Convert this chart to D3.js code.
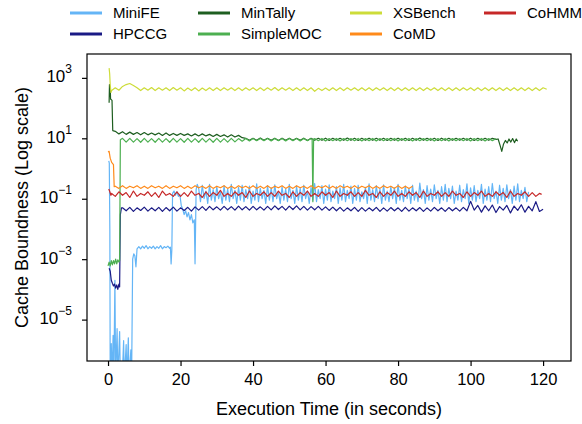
<!DOCTYPE html>
<html><head><meta charset="utf-8">
<script src="https://cdn.jsdelivr.net/npm/d3@7"></script>
<style>body{margin:0;background:#fff}</style></head>
<body>
<svg id="chart" width="582" height="424"></svg>
<script>
// ---------- data ----------
const seriesNames = ["MiniFE","HPCCG","MinTally","SimpleMOC","XSBench","CoMD","CoHMM"];
const seriesColors = ["#64b5f6","#1a1a85","#1e5e20","#4caf50","#cddc39","#ff8a1a","#c62828"];
const xTicks = [0,20,40,60,80,100,120];
const yTickExps = [-5,-3,-1,1,3];

// MiniFE
const miniFEHead = [[0.2,1.8],[0.35,1.5],[0.5,0.01],[0.6,1e-7],[0.9,1.6e-6],[1.1,1e-7],[1.4,3e-6],[1.6,1e-7],[1.9,2e-4],[2.1,1e-7],[2.5,5e-6],[2.7,1e-7],[3.2,4e-6],[3.4,1e-7],[3.9,1e-7],[4.3,2e-6],[4.5,1e-7],[5.0,1.5e-6],[5.2,1e-7],[5.6,2.5e-6],[5.8,1e-7],[6.3,1e-6],[6.5,1e-7],[6.8,1e-3],[7.1,1.5e-3],[7.4,1.3e-3],[7.7,5.6e-4],[8.0,2.2e-3],[8.5,2.6e-3],[9.0,2.2e-3],[9.5,2.7e-3],[10.0,2.3e-3],[10.5,2.8e-3],[11.0,2.2e-3],[11.5,2.6e-3],[12.0,2.3e-3],[12.5,2.7e-3],[13.0,2.2e-3],[13.5,2.6e-3],[14.0,2.3e-3],[14.5,2.8e-3],[15.0,2.2e-3],[15.5,2.6e-3],[16.0,2.4e-3],[16.5,2.7e-3],[17.0,2.3e-3],[17.2,2.5e-3],[17.4,7e-4],[17.6,2e-3],[17.8,0.15],[18.2,0.18],[18.6,0.13],[19.0,0.17],[19.4,0.12],[19.8,0.14],[20.2,0.06],[20.6,0.045],[21.0,0.03],[21.4,0.04],[21.8,0.025],[22.2,0.035],[22.6,0.02],[23.0,0.03],[23.4,0.016],[23.8,0.02],[24.0,7e-4],[24.3,0.2],[24.6,0.3]];
const miniFEBandStart = 25.0, miniFEBandStep = 0.5;
const miniFEBand = [0.22,0.08,0.28,0.1,0.18,0.07,0.3,0.09,0.2,0.08,
0.25,0.1,0.17,0.07,0.27,0.09,0.21,0.08,0.3,0.1,
0.19,0.07,0.24,0.09,0.28,0.08,0.2,0.1,0.26,0.07,
0.18,0.09,0.31,0.08,0.22,0.1,0.19,0.07,0.27,0.09,
0.23,0.08,0.29,0.1,0.17,0.07,0.25,0.09,0.21,0.08,
0.3,0.1,0.19,0.07,0.26,0.09,0.22,0.08,0.28,0.1,
0.18,0.07,0.24,0.09,0.32,0.08,0.2,0.1,0.27,0.07,
0.21,0.09,0.29,0.08,0.18,0.1,0.25,0.07,0.23,0.09,
0.3,0.08,0.19,0.1,0.26,0.07,0.22,0.09,0.28,0.08,
0.17,0.1,0.24,0.07,0.31,0.09,0.2,0.08,0.27,0.1,
0.21,0.07,0.29,0.09,0.18,0.08,0.25,0.1,0.23,0.07,
0.3,0.09,0.19,0.08,0.26,0.1,0.22,0.07,0.28,0.09,
0.18,0.08,0.33,0.1,0.2,0.07,0.27,0.09,0.21,0.08,
0.29,0.1,0.19,0.07,0.25,0.09,0.3,0.08,0.22,0.1,
0.26,0.07,0.18,0.09,0.28,0.08,0.2,0.1,0.31,0.07,
0.23,0.09,0.27,0.08,0.19,0.1,0.3,0.07,0.21,0.09,
0.25,0.08,0.32,0.1,0.18,0.07,0.28,0.09,0.22,0.08,
0.29,0.1,0.2,0.07,0.26,0.09,0.31,0.08,0.19,0.1,
0.24,0.08,0.17];

// HPCCG
const hpccgHead = [[0.3,5e-4],[0.6,4e-4],[0.9,2e-4],[1.2,1.6e-4],[1.5,1.3e-4],[1.8,1.5e-4],[2.1,1.1e-4],[2.4,1.4e-4],[2.7,1e-4],[3.0,1.5e-4],[3.2,1.2e-4],[3.4,0.03],[3.7,0.05]];
const hpccgStart = 4, hpccgStep = 1;
const hpccgVals = [0.05,0.04,0.052,0.038,0.05,0.041,0.053,0.039,0.05,0.04,0.052,0.038,0.051,0.04,0.053,0.039,0.05,0.041,0.052,0.039,
0.054,0.042,0.055,0.041,0.056,0.043,0.054,0.042,0.056,0.043,0.055,0.042,0.057,0.043,0.055,0.042,0.056,0.043,0.054,0.042,
0.056,0.043,0.058,0.044,0.056,0.042,0.057,0.044,0.058,0.043,0.056,0.042,0.055,0.043,0.056,0.042,0.054,0.041,0.053,0.04,
0.052,0.039,0.05,0.04,0.052,0.038,0.051,0.039,0.05,0.04,0.052,0.038,0.05,0.039,0.051,0.04,0.05,0.038,0.052,0.039,
0.05,0.04,0.051,0.038,0.05,0.039,0.052,0.04,0.05,0.038,0.051,0.04,0.05,0.039,0.052,0.04,0.082,0.042,0.06,0.036,
0.058,0.04,0.062,0.035,0.055,0.042,0.06,0.034,0.057,0.041,0.063,0.036,0.056,0.04,0.08,0.038,0.045];

// MinTally
const minTallyHead = [[0.3,150],[0.4,600],[0.5,250],[0.6,500],[0.7,200],[1.1,180],[1.3,18]];
const minTallyStart = 2, minTallyStep = 1;
const minTallyVals = [17,14,16.5,13.5,16,13.5,15.5,13,15.5,13,15,13,15,12.5,15,12.5,14.5,12.5,14.5,12.5,
14,12,14,12,14,12,13.5,11.5,13.5,11.5,13,11,13,11,12.5,10.5,
10,8.6,10,8.6,10.2,8.6,10,8.6,10,8.5,10.1,8.6,10,8.6,10,8.6,10.1,8.5,10,8.6,
10,8.6,10.1,8.5,10,8.6,10,8.6,10.2,8.6,10,8.5,10,8.6,10.1,8.6,10,8.6,10,8.5,
10,8.6,10.1,8.6,10,8.5,10,8.6,10.2,8.6,10,8.6,10,8.5,10.1,8.6,10,8.6,10,8.6,
10,8.6,10.1,8.5,10,8.6,10,8.6,10,9.2];
const minTallyTail = [[107.6,9.5],[108.2,5.5],[108.6,3.7],[109.1,6.5],[109.6,8.5],[110.1,7],[110.6,9.5],[111.1,7.5],[111.6,9.8],[112.1,7.2],[112.6,9.5],[113,8]];

// SimpleMOC
const simpleMOCHead = [[0,6e-4],[0.3,8e-4],[0.6,6e-4],[0.9,9e-4],[1.2,6.5e-4],[1.5,9e-4],[1.8,7e-4],[2.1,1e-3],[2.4,7e-4],[2.7,9.5e-4],[3.0,8e-4],[3.2,9e-4],[3.4,9],[3.7,9.5]];
const simpleMOCStartA = 4, simpleMOCStep = 1;
const simpleMOCValsA = [10,7.5,10,7.5,9.8,7.4,10,7.5,9.8,7.4,10,7.5,9.8,7.4,10,7.5,9.8,7.4,10,7.5,
9.8,7.4,10,7.5,9.8,7.4,10,7.5,9.8,7.5,10,7.6,9.8,8,9.8,8.2,9.8,8.3,9.9,8.3,
9.8,8.2,9.9,8.3,9.8,8.2,9.9,8.3,9.8,8.2,9.9,8.3,9.8];
const simpleMOCDip = [[56.3,9],[56.5,0.08],[56.7,9.5]];
const simpleMOCStartB = 57;
const simpleMOCValsB = [9.8,8.3,9.9,8.2,9.8,8.3,9.9,8.2,9.8,8.3,
9.8,8.3,9.9,8.2,9.8,8.3,9.9,8.2,9.8,8.3,
9.8,8.3,9.9,8.2,9.8,8.3,9.9,8.2,9.8,8.3,
9.8,8.3,9.9,8.2,9.8,8.3,9.9,8.2,9.8,8.3,
9.8,8.3,9.9,8.2,9.8,8.3,9.9,8.2,9.8,8.3,9.6];

// XSBench
const xsHead = [[0.3,2100],[0.45,1400],[0.6,600],[0.8,330]];
const xsStart = 1, xsStep = 1;
const xsVals = [380,470,390,520,600,650,560,470,380,470,390,480,380,470,390,470,380,480,390,470,
370,460,380,470,370,460,380,470,380,470,380,470,390,470,380,470,380,470,390,470,
380,470,380,470,390,480,380,470,390,470,380,470,380,470,380,470,360,450,380,460,
380,470,380,470,380,470,390,470,380,470,380,470,380,470,390,470,380,470,380,470,
380,470,380,470,380,470,380,470,390,470,380,470,380,470,380,470,380,470,390,470,
380,470,380,470,380,470,380,470,380,470,380,470,380,470,380,470,380,470,380,470,420];

// CoMD
const comdHead = [[0.0,3.5],[0.3,3.7],[0.6,2.2],[1.0,1.6],[1.5,1.35],[1.7,0.25]];
const comdStart = 2, comdStep = 1;
const comdVals = [0.26,0.22,0.27,0.22,0.26,0.23,0.27,0.22,0.26,0.22,0.27,0.23,0.26,0.22,0.27,0.22,0.26,0.23,0.27,0.22,
0.26,0.22,0.27,0.23,0.26,0.22,0.27,0.22,0.26,0.23,0.27,0.22,0.26,0.22,0.27,0.23,0.26,0.22,0.27,0.22,
0.26,0.22,0.27,0.22,0.26,0.23,0.27,0.22,0.26,0.22,0.27,0.23,0.26,0.22,0.27,0.22,0.26,0.23,0.27,0.22,
0.26,0.22,0.27,0.23,0.26,0.22,0.27,0.22,0.26,0.23,0.27,0.22,0.26,0.22,0.27,0.23,0.26,0.22,0.27,0.22,
0.26,0.22,0.26];

// CoHMM
const cohmmHead = [[0.2,0.21],[0.5,0.17],[0.8,0.13]];
const cohmmStart = 1, cohmmStep = 1;
const cohmmVals = [0.15,0.12,0.17,0.13,0.16,0.11,0.18,0.12,0.15,0.13,0.17,0.12,0.16,0.11,0.18,0.13,0.15,0.12,0.17,0.12,
0.16,0.12,0.18,0.13,0.15,0.11,0.17,0.12,0.16,0.13,0.19,0.12,0.15,0.12,0.17,0.13,0.16,0.11,0.18,0.12,
0.15,0.13,0.17,0.12,0.16,0.12,0.18,0.13,0.15,0.11,0.17,0.12,0.16,0.13,0.18,0.12,0.15,0.12,0.17,0.13,
0.16,0.11,0.18,0.12,0.15,0.13,0.17,0.12,0.16,0.12,0.19,0.13,0.15,0.11,0.17,0.12,0.16,0.13,0.18,0.12,
0.15,0.12,0.17,0.13,0.16,0.11,0.18,0.12,0.15,0.13,0.17,0.12,0.16,0.12,0.18,0.13,0.15,0.11,0.17,0.12,
0.16,0.13,0.18,0.12,0.15,0.12,0.17,0.13,0.16,0.11,0.18,0.12,0.15,0.13,0.17,0.12,0.16,0.12,0.15];
const cohmmTail = [[119.6,0.14]];

// ---------- assemble ----------
function seg(start, step, vals){ return vals.map((v,i)=>[start + i*step, v]); }
const seriesData = [
  miniFEHead.concat(seg(miniFEBandStart, miniFEBandStep, miniFEBand)),
  hpccgHead.concat(seg(hpccgStart, hpccgStep, hpccgVals)),
  minTallyHead.concat(seg(minTallyStart, minTallyStep, minTallyVals), minTallyTail),
  simpleMOCHead.concat(seg(simpleMOCStartA, simpleMOCStep, simpleMOCValsA), simpleMOCDip, seg(simpleMOCStartB, simpleMOCStep, simpleMOCValsB)),
  xsHead.concat(seg(xsStart, xsStep, xsVals)),
  comdHead.concat(seg(comdStart, comdStep, comdVals)),
  cohmmHead.concat(seg(cohmmStart, cohmmStep, cohmmVals), cohmmTail)
];

// ---------- layout ----------
const W = 582, H = 424;
const plot = {left: 87, right: 571, top: 54, bottom: 361};
const FONT = "'Liberation Sans', Arial, Helvetica, sans-serif";

const svg = d3.select("#chart");
const x = d3.scaleLinear().domain([-5.8, 127.7]).range([plot.left, plot.right]);
const y = d3.scaleLog().domain([Math.pow(10,-6.37), Math.pow(10,3.79)]).range([plot.bottom, plot.top]);

svg.append("defs").append("clipPath").attr("id","clip")
  .append("rect").attr("x",plot.left).attr("y",plot.top)
  .attr("width",plot.right-plot.left).attr("height",plot.bottom-plot.top);

const line = d3.line().x(d=>x(d[0])).y(d=>y(d[1]));
const g = svg.append("g").attr("clip-path","url(#clip)");
seriesData.forEach((d,i)=>{
  g.append("path").datum(d).attr("d",line)
    .attr("fill","none").attr("stroke",seriesColors[i])
    .attr("stroke-width",1.2).attr("stroke-linejoin","round");
});

// frame
svg.append("rect").attr("x",plot.left).attr("y",plot.top)
  .attr("width",plot.right-plot.left).attr("height",plot.bottom-plot.top)
  .attr("fill","none").attr("stroke","#000").attr("stroke-width",1.2);

// x axis
const xAxis = d3.axisBottom(x).tickValues(xTicks).tickSize(5).tickPadding(7).tickFormat(d3.format("d"));
const gx = svg.append("g").attr("transform",`translate(0,${plot.bottom})`).call(xAxis);
gx.select(".domain").remove();
gx.selectAll(".tick line").attr("stroke","#000").attr("stroke-width",1.2);
gx.selectAll(".tick text").attr("font-family",FONT).attr("font-size",16.5).attr("fill","#000");

// y axis
const yAxis = d3.axisLeft(y).tickValues(yTickExps.map(e=>Math.pow(10,e))).tickSize(5).tickPadding(5).tickFormat("");
const gy = svg.append("g").attr("transform",`translate(${plot.left},0)`).call(yAxis);
gy.select(".domain").remove();
gy.selectAll(".tick line").attr("stroke","#000").attr("stroke-width",1.2);
gy.selectAll(".tick").each(function(d){
  const e = Math.round(Math.log10(d));
  const t = d3.select(this).append("text").attr("x",-15).attr("dy","0.4em")
    .attr("text-anchor","end").attr("font-family",FONT).attr("fill","#000");
  t.append("tspan").attr("font-size",17).text("10");
  t.append("tspan").attr("font-size",12).attr("dy","-0.75em").text(String(e).replace("-","\u2212"));
});

// axis labels
svg.append("text").attr("x",(plot.left+plot.right)/2).attr("y",415)
  .attr("text-anchor","middle").attr("font-family",FONT).attr("font-size",18)
  .text("Execution Time (in seconds)");
svg.append("text").attr("transform",`translate(28,${(plot.top+plot.bottom)/2}) rotate(-90)`)
  .attr("text-anchor","middle").attr("font-family",FONT).attr("font-size",18)
  .text("Cache Boundness (Log scale)");

// legend (column-major, 2 rows)
const legCols = [70, 198, 350, 484];
const legRows = [13, 34];
seriesNames.forEach((n,i)=>{
  const c = Math.floor(i/2), r = i%2;
  const lx = legCols[c], ly = legRows[r];
  svg.append("line").attr("x1",lx).attr("x2",lx+32).attr("y1",ly).attr("y2",ly)
    .attr("stroke",seriesColors[i]).attr("stroke-width",3);
  svg.append("text").attr("x",lx+43).attr("y",ly).attr("dy","0.35em")
    .attr("font-family",FONT).attr("font-size",15).text(n);
});
</script>
</body></html>
